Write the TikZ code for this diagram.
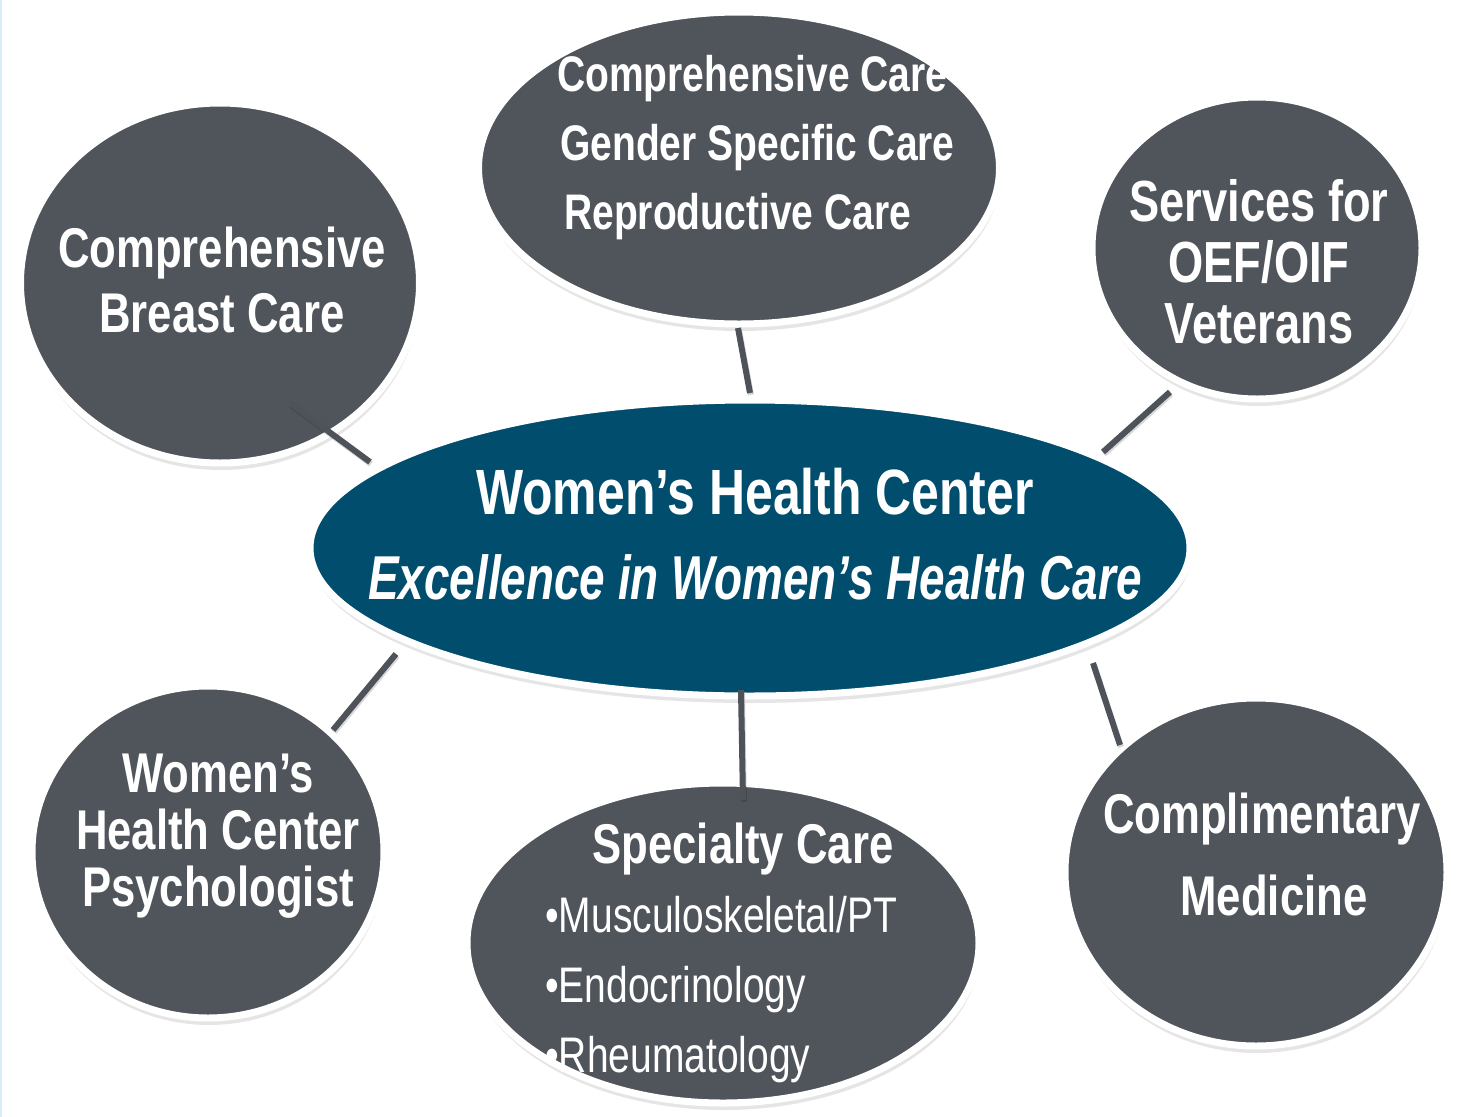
\documentclass[tikz,border=0pt]{standalone}
\usepackage{fontspec}
\newfontfamily\nar{Liberation Sans}[FakeStretch=0.78]
\newfontfamily\narit{Liberation Sans}[FakeStretch=0.74]
\usetikzlibrary{shapes.geometric,shadows}
\definecolor{nodegray}{RGB}{80,84,91}
\definecolor{hubblue}{RGB}{0,77,110}
\definecolor{linkgray}{RGB}{78,82,89}
\definecolor{edgeblue}{RGB}{215,237,247}
\begin{document}
\begin{tikzpicture}[x=1pt,y=-1pt,
  bubble/.style={ellipse, fill=nodegray, draw=white, line width=7pt, inner sep=0pt,
    drop shadow={opacity=0.2, shadow xshift=1pt, shadow yshift=-7pt}},
  hub/.style={bubble, fill=hubblue},
  link/.style={draw=linkgray, line width=6pt,
    preaction={draw=black, opacity=0.15, line width=6pt, transform canvas={shift={(1pt,-2pt)}}}},
  lbl/.style={text=white, align=center, inner sep=0pt},
]
\useasboundingbox (0,0) rectangle (1460,1117);
\fill[white] (0,0) rectangle (1460,1117);
\draw[edgeblue, line width=2pt] (1,0) -- (1,1117);

% bubbles
\node[bubble, minimum width=399pt, minimum height=360pt] (tl) at (220,283) {};
\node[bubble, minimum width=521pt, minimum height=312pt] (top) at (739,168) {};
\node[bubble, minimum width=330pt, minimum height=302pt] (tr) at (1257,248) {};
\node[bubble, minimum width=352pt, minimum height=332pt] (bl) at (208,852) {};
\node[bubble, minimum width=512pt, minimum height=320pt] (bm) at (723,943) {};
\node[bubble, minimum width=382pt, minimum height=348pt] (br) at (1256,872) {};
\node[hub, minimum width=880pt, minimum height=296pt] (hubn) at (750,548) {};

% connectors
\coordinate (l1a) at (290,403); \coordinate (l1b) at (370,462);
\coordinate (l2a) at (738,328); \coordinate (l2b) at (750,393);
\coordinate (l3a) at (1170,392); \coordinate (l3b) at (1103,452);
\coordinate (l4a) at (396,654); \coordinate (l4b) at (333,730);
\coordinate (l5a) at (741,690); \coordinate (l5b) at (743,800);
\coordinate (l6a) at (1093,663); \coordinate (l6b) at (1120,745);
\draw[link] (l1a) -- (l1b);
\draw[link] (l2a) -- (l2b);
\draw[link] (l3a) -- (l3b);
\draw[link] (l4a) -- (l4b);
\draw[link] (l5a) -- (l5b);
\draw[link] (l6a) -- (l6b);

% texts
\node[lbl, font=\nar\bfseries\fontsize{56}{65}\selectfont] (tltext) at (222,280) {Comprehensive\\Breast Care};
\node[lbl, anchor=west, font=\nar\bfseries\fontsize{50}{60}\selectfont] (topt1) at (557,79) {Comprehensive Care};
\node[lbl, anchor=west, font=\nar\bfseries\fontsize{50}{60}\selectfont] (topt2) at (560,148) {Gender Specific Care};
\node[lbl, anchor=west, font=\nar\bfseries\fontsize{50}{60}\selectfont] (topt3) at (564,217) {Reproductive Care};
\node[lbl, font=\nar\bfseries\fontsize{58}{61}\selectfont] (trtext) at (1259,262) {Services for\\OEF/OIF\\Veterans};
\node[lbl, font=\nar\bfseries\fontsize{64}{70}\selectfont] (hubt1) at (755,492) {Women’s Health Center};
\node[lbl, font=\narit\bfseries\itshape\fontsize{62}{70}\selectfont] (hubt2) at (755,577) {Excellence in Women’s Health Care};
\node[lbl, font=\nar\bfseries\fontsize{56}{57}\selectfont] (bltext) at (218,836) {Women’s\\Health Center\\Psychologist};
\node[lbl, font=\nar\bfseries\fontsize{56}{60}\selectfont] (bmhead) at (743,849) {Specialty Care};
\node[lbl, align=left, anchor=west, font=\nar\fontsize{50}{70}\selectfont] (bmlist) at (545,990) {•Musculoskeletal/PT\\•Endocrinology\\•Rheumatology};
\node[lbl, font=\nar\bfseries\fontsize{56}{60}\selectfont] (brt1) at (1262,819) {Complimentary};
\node[lbl, font=\nar\bfseries\fontsize{56}{60}\selectfont] (brt2) at (1274,895) {Medicine};
\end{tikzpicture}
\end{document}
